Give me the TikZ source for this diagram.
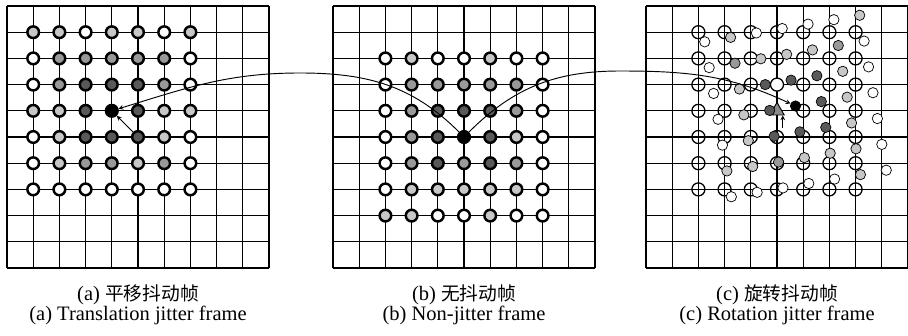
\documentclass[tikz,border=0pt]{standalone}
\usepackage{fontspec}
\setmainfont{Liberation Serif}
\newfontfamily\cjk{Noto Sans CJK SC}
\usetikzlibrary{shapes.geometric}

\newcommand{\cellgrid}{%
  \foreach \k in {0,...,10} {
    \draw[gridline] (\k,0) -- (\k,-10);
    \draw[gridline] (0,-\k) -- (10,-\k);
  }}

\begin{document}
\begin{tikzpicture}[x=0.786cm, y=0.786cm, >=stealth,
  every node/.style={font=\fontsize{17.5}{20}\selectfont},
  gridline/.style={line width=1.05pt},
  dot/.style={circle, draw, line width=2.1pt, inner sep=0pt, minimum size=0.35cm},
  ring/.style={circle, draw, line width=1.1pt, inner sep=0pt, minimum size=0.39cm},
  spot/.style={circle, draw, line width=0.6pt, inner sep=0pt, minimum size=0.31cm},
  tri/.style={regular polygon, regular polygon sides=3, draw, line width=0.8pt, fill=black!45, inner sep=0pt, minimum size=0.5cm},
  lv0/.style={fill=white}, lv1/.style={fill=black!22}, lv2/.style={fill=black!40},
  lv3/.style={fill=black!65}, lv4/.style={fill=black},
  link/.style={line width=0.8pt}]
\useasboundingbox (0,0) rectangle (34.656,-12.824);

% (a) translation jitter
\begin{scope}[shift={(0.267,-0.229)}]
\cellgrid
\foreach \row [count=\j] in {{1,1,0,1,1,0,1},{0,2,2,2,2,2,0},{0,2,3,3,3,2,0},
    {1,1,3,4,3,1,1},{0,1,3,3,3,1,0},{0,1,2,2,1,2,0},{0,0,0,0,0,0,0}}
  \foreach \lv [count=\i] in \row
    \node[dot, lv\lv] (a-\i-\j) at (\i,-\j) {};
\end{scope}

% (b) no jitter
\begin{scope}[shift={(12.71,-0.229)}]
\cellgrid
\foreach \row [count=\j] in {{0,1,0,0,1,0,0},{0,2,2,2,2,2,0},{0,2,3,3,3,2,0},
    {0,2,3,4,3,1,0},{0,2,3,2,3,2,0},{0,1,1,1,1,1,0},{1,1,0,0,1,0,0}}
  \foreach \lv [count=\i] in \row
    \node[dot, lv\lv] (b-\i-\j) at (\i+1,-\j-1) {};
\end{scope}

% (c) rotation jitter
\begin{scope}[shift={(24.656,-0.229)}]
\cellgrid
\foreach \i in {1,...,7}
  \foreach \j in {1,...,7} {
    \ifnum\i\j=43 \def\rfill{white}\else\def\rfill{none}\fi
    \ifnum\i\j=44 \else
      \node[ring, fill=\rfill] (c-\i-\j) at (\i+1,-\j) {};
    \fi
  }
\node[tri] (c-ctr) at (5,-4) {};
\coordinate (c-up) at (5.218,-4.668);
% rotated grid
\begin{scope}[shift={(5.706,-3.817)}, rotate=9.73]
\foreach \row [count=\j] in {{0,1,0,0,0,0,1},{0,2,1,1,1,2,0},{0,1,3,3,3,1,0},
    {0,1,3,4,3,1,0},{0,1,3,3,3,1,0},{1,1,2,1,1,1,0},{0,0,0,0,0,1,0}}
  \foreach \lv [count=\i] in \row
    \node[spot, lv\lv] (r-\i-\j) at (\i-4,4-\j) {};
\end{scope}
\end{scope}

% connectors
\coordinate (lpeak) at (11.45,-2.786);
\coordinate (rpeak) at (23.66,-2.71);
\draw[->, link] (b-4-4) to[out=135, in=0] (lpeak) to[out=180, in=17] (a-4-4);
\draw[->, link] (b-4-4) to[out=45, in=180] (rpeak) to[out=0, in=155] (r-4-4);
\draw[->, link] (a-5-5) -- (a-4-4);
\draw[->, link] (c-up) -- (c-ctr.south -| c-up);

% captions
\node[anchor=base] (cap-a-zh) at (5.267,-11.47) {(a) {\cjk\fontsize{16}{20}\selectfont 平移抖动帧}};
\node[anchor=base] (cap-a-en) at (5.267,-12.25) {(a) Translation jitter frame};
\node[anchor=base] (cap-b-zh) at (17.71,-11.47) {(b) {\cjk\fontsize{16}{20}\selectfont 无抖动帧}};
\node[anchor=base] (cap-b-en) at (17.71,-12.25) {(b) Non-jitter frame};
\node[anchor=base] (cap-c-zh) at (29.656,-11.47) {(c) {\cjk\fontsize{16}{20}\selectfont 旋转抖动帧}};
\node[anchor=base] (cap-c-en) at (29.656,-12.25) {(c) Rotation jitter frame};
\end{tikzpicture}
\end{document}
